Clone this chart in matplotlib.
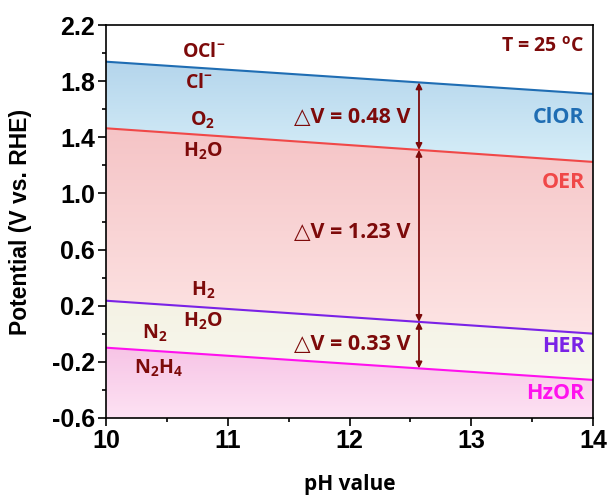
import numpy as np
import matplotlib
matplotlib.use("Agg")
import matplotlib.pyplot as plt
from matplotlib.colors import LinearSegmentedColormap

# ---- data ----
ph = [10, 14]
clor = [1.94, 1.71]
oer = [1.465, 1.225]
her = [0.235, 0.0]
hzor = [-0.10, -0.33]
arrow_ph = 12.57
dv_labels = ["\u25B3V = 0.48 V", "\u25B3V = 1.23 V", "\u25B3V = 0.33 V"]
xticks = [10, 11, 12, 13, 14]
yticks = [-0.6, -0.2, 0.2, 0.6, 1.0, 1.4, 1.8, 2.2]

plt.rcParams['mathtext.fontset'] = 'custom'
plt.rcParams['mathtext.rm'] = 'Open Sans:bold'
plt.rcParams['mathtext.bf'] = 'Open Sans:bold'
plt.rcParams['mathtext.it'] = 'Open Sans:bold'

DR = '#7d0a0a'
c_clor = '#1f6db3'
c_oer = '#f04848'
c_her = '#7a22e6'
c_hzor = '#ff11ee'

fig = plt.figure(figsize=(6.09, 4.95), dpi=100)
ax = fig.add_axes([0.174, 0.156, 0.800, 0.793])
ax.set_xlim(10, 14)
ax.set_ylim(-0.6, 2.2)

def grad_fill(y1, y2, ctop, cbot):
    poly = ax.fill_between(ph, y1, y2, color='none', lw=0)
    ymin = min(min(y1), min(y2)); ymax = max(max(y1), max(y2))
    cmap = LinearSegmentedColormap.from_list('g', [cbot, ctop])
    grad = np.linspace(0, 1, 256).reshape(-1, 1)
    im = ax.imshow(grad, extent=[10, 14, ymin, ymax], origin='lower',
                   cmap=cmap, aspect='auto', zorder=0.5)
    path = poly.get_paths()[0]
    im.set_clip_path(path, transform=ax.transData)

grad_fill(clor, oer, '#b4d5ec', '#d6eef8')
grad_fill(oer, her, '#f5c4c6', '#fde4e4')
grad_fill(her, hzor, '#f4f2e4', '#f8f7ee')
grad_fill(hzor, [-0.6, -0.6], '#f7c4e6', '#fde2f3')
ax.set_xlim(10, 14)
ax.set_ylim(-0.6, 2.2)

ax.plot(ph, clor, color=c_clor, lw=1.5, zorder=2)
ax.plot(ph, oer, color=c_oer, lw=1.5, zorder=2)
ax.plot(ph, her, color=c_her, lw=1.5, zorder=2)
ax.plot(ph, hzor, color=c_hzor, lw=1.5, zorder=2)

def yat(line, x):
    return np.interp(x, ph, line)

pairs = [(clor, oer), (oer, her), (her, hzor)]
for (a, b) in pairs:
    ax.annotate('', xy=(arrow_ph, yat(a, arrow_ph)), xytext=(arrow_ph, yat(b, arrow_ph)),
                arrowprops=dict(arrowstyle='<|-|>', color=DR, lw=1.3,
                                mutation_scale=9, shrinkA=0, shrinkB=0), zorder=3)

fam = ['Open Sans', 'DejaVu Sans']
lab_font = dict(family=fam, fontweight='bold', color=DR, fontsize=14)
dv_font = dict(family=fam, fontweight='bold', color=DR, fontsize=15.5)
ax.text(12.50, 1.545, dv_labels[0], ha='right', va='center', **dv_font)
ax.text(12.50, 0.72, dv_labels[1], ha='right', va='center', **dv_font)
ax.text(12.50, -0.08, dv_labels[2], ha='right', va='center', **dv_font)

ax.text(10.80, 2.01, r'$\mathregular{OCl^{-}}$', ha='center', va='center', **lab_font)
ax.text(10.76, 1.79, r'$\mathregular{Cl^{-}}$', ha='center', va='center', **lab_font)
ax.text(10.79, 1.52, r'$\mathregular{O_{2}}$', ha='center', va='center', **lab_font)
ax.text(10.80, 1.30, r'$\mathregular{H_{2}O}$', ha='center', va='center', **lab_font)
ax.text(10.80, 0.31, r'$\mathregular{H_{2}}$', ha='center', va='center', **lab_font)
ax.text(10.80, 0.085, r'$\mathregular{H_{2}O}$', ha='center', va='center', **lab_font)
ax.text(10.40, 0.0, r'$\mathregular{N_{2}}$', ha='center', va='center', **lab_font)
ax.text(10.43, -0.245, r'$\mathregular{N_{2}H_{4}}$', ha='center', va='center', **lab_font)
ax.text(13.92, 2.05, r'T = 25 $\mathregular{^{o}}$C', ha='right', va='center', **lab_font)

nm_font = dict(family=fam, fontweight='bold', fontsize=15.5)
ax.text(13.93, 1.54, 'ClOR', ha='right', va='center', color=c_clor, **nm_font)
ax.text(13.93, 1.08, 'OER', ha='right', va='center', color=c_oer, **nm_font)
ax.text(13.93, -0.09, 'HER', ha='right', va='center', color=c_her, **nm_font)
ax.text(13.93, -0.43, 'HzOR', ha='right', va='center', color=c_hzor, **nm_font)

ax.set_xticks(xticks)
ax.set_yticks(yticks)
ax.set_yticklabels([f'{v:.1f}' for v in yticks])
ax.set_xticks(np.arange(10, 14.01, 0.5), minor=True)
ax.set_yticks(np.arange(-0.6, 2.21, 0.2), minor=True)
ax.tick_params(which='both', direction='out', top=False, right=False, width=1.2, pad=2)
ax.tick_params(which='major', length=6)
ax.tick_params(which='minor', length=3)
for lab in ax.get_xticklabels() + ax.get_yticklabels():
    lab.set_fontfamily('Liberation Sans')
    lab.set_fontweight('bold')
    lab.set_fontsize(18)
for s in ax.spines.values():
    s.set_linewidth(1.2)

ax.set_xlabel('pH value', family=fam, fontweight='bold', fontsize=15, labelpad=15)
ax.set_ylabel('Potential (V vs. RHE)', fontfamily='Liberation Sans', fontweight='bold',
              fontsize=16.5, labelpad=14)

fig.savefig('out.png', dpi=100)
